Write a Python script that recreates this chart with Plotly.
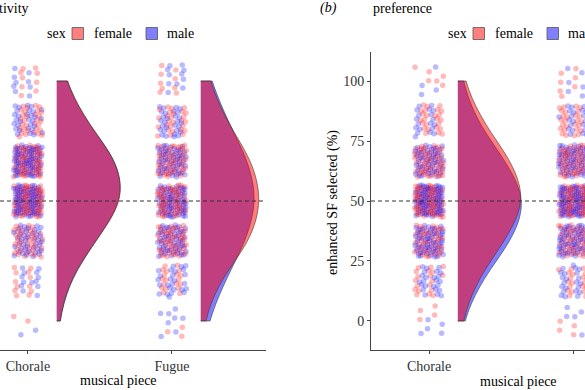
import numpy as np
import plotly.graph_objects as go

# ---------------- data ----------------
levels = [0, 16.67, 33.33, 50, 66.67, 83.33, 100]   # % enhanced SF selected (k of 6 trials)
pieces = ["Chorale", "Fugue"]
piece_pos = [1, 2]
sexes = ["female", "male"]

# number of participants at each level (read from the point clouds / violin shapes)
sens_chorale_female = [2, 12, 42, 76, 68, 31, 9]
sens_chorale_male = [2, 13, 42, 75, 69, 30, 9]
sens_fugue_female = [3, 19, 56, 68, 58, 27, 9]
sens_fugue_male = [8, 26, 50, 63, 53, 29, 11]

pref_chorale_female = [4, 19, 51, 76, 59, 25, 6]
pref_chorale_male = [5, 24, 59, 77, 52, 19, 4]
pref_fugue_female = [4, 20, 51, 72, 59, 27, 7]
pref_fugue_male = [5, 22, 56, 73, 56, 22, 6]

panels = {
    "sensitivity": {"Chorale": {"female": sens_chorale_female, "male": sens_chorale_male},
                    "Fugue": {"female": sens_fugue_female, "male": sens_fugue_male}},
    "preference": {"Chorale": {"female": pref_chorale_female, "male": pref_chorale_male},
                   "Fugue": {"female": pref_fugue_female, "male": pref_fugue_male}},
}

# ---------------- style ----------------
FONT = "Liberation Serif, Times New Roman, serif"
fill = {"female": "rgba(255,0,0,0.5)", "male": "rgba(0,0,255,0.5)"}
pcol = {"female": "rgba(255,0,0,0.27)", "male": "rgba(0,0,255,0.27)"}
AX = "#444444"
OUTLINE = "#3a3a3a"
JIT_X, JIT_Y = 0.1, 6.67
VIOLIN_OFFSET = 0.2
VIOLIN_WIDTH = 0.88
BW = 11

fig = go.Figure()

# deterministic low-discrepancy jitter (R2 sequence) for point positions only
g = 1.32471795724474602596
a1, a2 = 1 / g, 1 / (g * g)
counter = [0]


def jitter():
    n = counter[0]
    counter[0] += 1
    return ((0.5 + a1 * n) % 1) * 2 - 1, ((0.5 + a2 * n) % 1) * 2 - 1


def expand(counts):
    vals = []
    for lev, c in zip(levels, counts):
        vals += [lev] * c
    return vals


def kde_peak(vals):
    # peak of the normalised gaussian KDE on [0, 100] (same kernel/bandwidth as the violins)
    grid = np.linspace(0, 100, 401)
    v = np.asarray(vals, dtype=float)
    dens = np.exp(-0.5 * ((grid[:, None] - v[None, :]) / BW) ** 2).sum(axis=1) / (len(v) * BW)
    return dens.max()


axes = {"sensitivity": ("x", "y"), "preference": ("x2", "y2")}

for pname, pdata in panels.items():
    xa, ya = axes[pname]
    px, py, pc = [], [], []
    for piece, pos in zip(pieces, piece_pos):
        for k, lev in enumerate(levels):
            nf = pdata[piece]["female"][k]
            nm = pdata[piece]["male"][k]
            seq = []
            i = j = 0
            while i < nf or j < nm:
                if i < nf:
                    seq.append("female"); i += 1
                if j < nm:
                    seq.append("male"); j += 1
            for s in seq:
                jx, jy = jitter()
                px.append(pos + jx * JIT_X)
                py.append(lev + jy * JIT_Y)
                pc.append(pcol[s])
    fig.add_trace(go.Scatter(x=px, y=py, mode="markers", xaxis=xa, yaxis=ya,
                             marker=dict(size=5.5, color=pc, line=dict(width=0)),
                             showlegend=False, hoverinfo="skip"))
    # equal-area scaling of all half-violins within a panel
    peaks = {(piece, s): kde_peak(expand(pdata[piece][s])) for piece in pieces for s in sexes}
    pmax = max(peaks.values())
    for piece, pos in zip(pieces, piece_pos):
        for s in ["male", "female"]:
            vals = expand(pdata[piece][s])
            fig.add_trace(go.Violin(
                x0=pos + VIOLIN_OFFSET, y=vals, xaxis=xa, yaxis=ya, name=s,
                side="positive", spanmode="manual", span=[0, 100], bandwidth=BW,
                points=False, width=VIOLIN_WIDTH * peaks[(piece, s)] / pmax,
                scalegroup=f"{pname}-{piece}-{s}", scalemode="width",
                fillcolor=fill[s], line=dict(color=OUTLINE, width=0.6),
                showlegend=False, hoverinfo="skip"))

common_x = dict(tickvals=piece_pos, ticktext=pieces, showgrid=False, zeroline=False,
                showline=True, linecolor=AX, linewidth=1, ticks="outside", ticklen=3,
                tickcolor=AX, tickfont=dict(family=FONT, size=14, color="#333333"))
yr = [-12.1, 112.1]

fig.update_layout(
    width=585, height=390, margin=dict(l=0, r=0, t=52, b=40, autoexpand=False),
    paper_bgcolor="white", plot_bgcolor="white",
    font=dict(family=FONT, size=14, color="black"),
    xaxis=dict(domain=[0, 266 / 585], range=[0.806, 2.653], anchor="y", **common_x),
    xaxis2=dict(domain=[371 / 585, 1], range=[0.597, 2.083], anchor="y2", **common_x),
    yaxis=dict(domain=[0, 1], range=yr, anchor="x", showticklabels=False, showgrid=False,
               zeroline=False, showline=False, ticks=""),
    yaxis2=dict(domain=[0, 1], range=yr, anchor="x2", tickvals=[0, 25, 50, 75, 100],
                showgrid=False, zeroline=False, showline=True, linecolor=AX, linewidth=1,
                ticks="outside", ticklen=3, tickcolor=AX,
                tickfont=dict(family=FONT, size=14, color="#333333")),
    showlegend=False,
)

for xr, yref in [("x domain", "y"), ("x2 domain", "y2")]:
    fig.add_shape(type="line", xref=xr, yref=yref, x0=0, x1=1, y0=50, y1=50, layer="above",
                  line=dict(color="#333333", width=1, dash="4px,3px"))

# ---- legends "sex: female / male" above each panel (pixel layout -> paper coords) ----
PLOT_TOP, PLOT_BOT = 52, 350


def py2paper(ypx):
    return (PLOT_BOT - ypx) / (PLOT_BOT - PLOT_TOP)


legend_y = py2paper(33.5)
legend_boxes = {"female": 72, "male": 146}
legend_texts = {"female": 92, "male": 165}
for dx in [0, 401]:
    fig.add_annotation(text="sex", x=(45 + dx) / 585, xanchor="left", y=legend_y,
                       yanchor="middle", xref="paper", yref="paper", showarrow=False,
                       font=dict(family=FONT, size=14, color="black"))
    for s in sexes:
        x0 = (legend_boxes[s] + dx) / 585
        x1 = (legend_boxes[s] + 11.5 + dx) / 585
        fig.add_shape(type="rect", xref="paper", yref="paper", x0=x0, x1=x1,
                      y0=py2paper(39.5), y1=py2paper(27.5), fillcolor=fill[s],
                      line=dict(color="#555555", width=0.8), layer="above")
        fig.add_annotation(text=s, x=(legend_texts[s] + dx) / 585, xanchor="left",
                           y=legend_y, yanchor="middle", xref="paper", yref="paper",
                           showarrow=False, font=dict(family=FONT, size=14, color="black"))

ann = [
    dict(text="sensitivity", x=31 / 585, xanchor="right", y=py2paper(8), yanchor="middle"),
    dict(text="<i>(b)</i>", x=318 / 585, xanchor="left", y=py2paper(8), yanchor="middle"),
    dict(text="preference", x=371 / 585, xanchor="left", y=py2paper(8), yanchor="middle"),
    dict(text="musical piece", x=118 / 585, xanchor="center", y=py2paper(380), yanchor="middle"),
    dict(text="musical piece", x=518 / 585, xanchor="center", y=py2paper(381), yanchor="middle"),
    dict(text="enhanced SF selected (%)", x=333 / 585, xanchor="center", y=py2paper(203),
         yanchor="middle", textangle=-90),
]
for a in ann:
    fig.add_annotation(xref="paper", yref="paper", showarrow=False,
                       font=dict(family=FONT, size=14, color="black"), **a)

# remove the browser's default 8px body margin so the figure sits at the window origin
fig.write_html("out.html", config={"displayModeBar": False},
               post_script="document.body.style.margin='0px';")
